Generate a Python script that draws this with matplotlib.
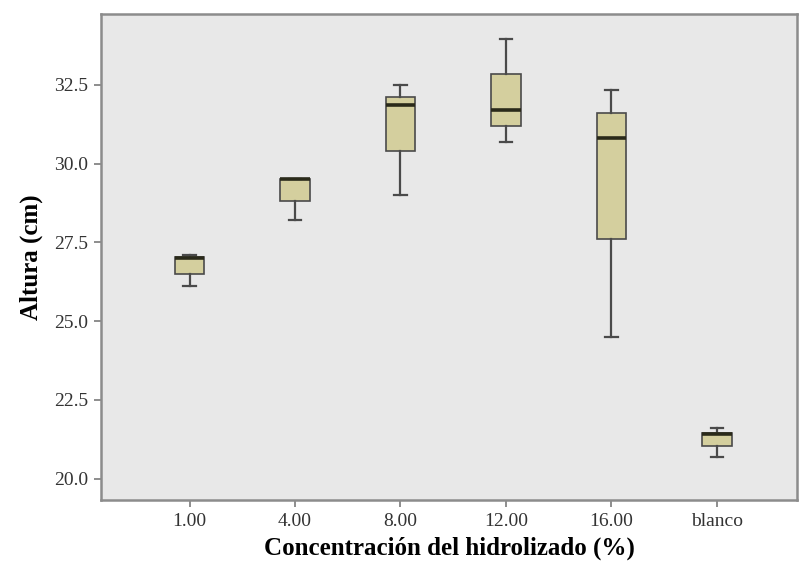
import matplotlib
matplotlib.use("Agg")
import matplotlib.pyplot as plt

categories = ["1.00", "4.00", "8.00", "12.00", "16.00", "blanco"]
whis_lo = [26.1, 28.2, 29.0, 30.7, 24.5, 20.7]
q1 = [26.5, 28.8, 30.4, 31.2, 27.6, 21.05]
median = [27.0, 29.5, 31.85, 31.7, 30.8, 21.4]
q3 = [27.05, 29.5, 32.1, 32.85, 31.6, 21.45]
whis_hi = [27.1, 29.5, 32.5, 33.95, 32.35, 21.6]
yticks = [20.0, 22.5, 25.0, 27.5, 30.0, 32.5]

plt.rcParams['font.family'] = ['Liberation Serif', 'DejaVu Serif']

fig = plt.figure(figsize=(8.01, 5.64), dpi=100)
ax = fig.add_axes([101/801, 1 - 500/564, (797-101)/801, (500-14)/564])
ax.set_facecolor('#E8E8E8')

stats = []
for i, c in enumerate(categories):
    stats.append(dict(label=c, whislo=whis_lo[i], q1=q1[i], med=median[i],
                      q3=q3[i], whishi=whis_hi[i], fliers=[]))

ax.bxp(stats, positions=range(len(categories)), widths=0.28, patch_artist=True,
       showfliers=False,
       boxprops=dict(facecolor='#D4CF9E', edgecolor='#4a4a4a', linewidth=1.2),
       medianprops=dict(color='#2a2a1a', linewidth=2.6),
       whiskerprops=dict(color='#4a4a4a', linewidth=1.6),
       capprops=dict(color='#4a4a4a', linewidth=1.6),
       capwidths=0.12)

ax.set_xlim(-0.84, 5.76)
ax.set_ylim(19.32, 34.75)
ax.set_yticks(yticks)
ax.set_yticklabels([f"{v:.1f}" for v in yticks])
ax.set_xticks(range(len(categories)))
ax.set_xticklabels(categories)

for s in ax.spines.values():
    s.set_color('#8c8c8c')
    s.set_linewidth(1.8)

ax.tick_params(axis='both', colors='#7a7a7a', length=5, width=1.2,
               labelsize=14, labelcolor='#333333')
ax.tick_params(axis='x', pad=4)
ax.tick_params(axis='y', pad=4)

ax.set_xlabel("Concentración del hidrolizado (%)", fontsize=18, fontweight='bold',
              labelpad=5)
ax.set_ylabel("Altura (cm)", fontsize=18, fontweight='bold', labelpad=8)

fig.savefig("out.png", dpi=100)
